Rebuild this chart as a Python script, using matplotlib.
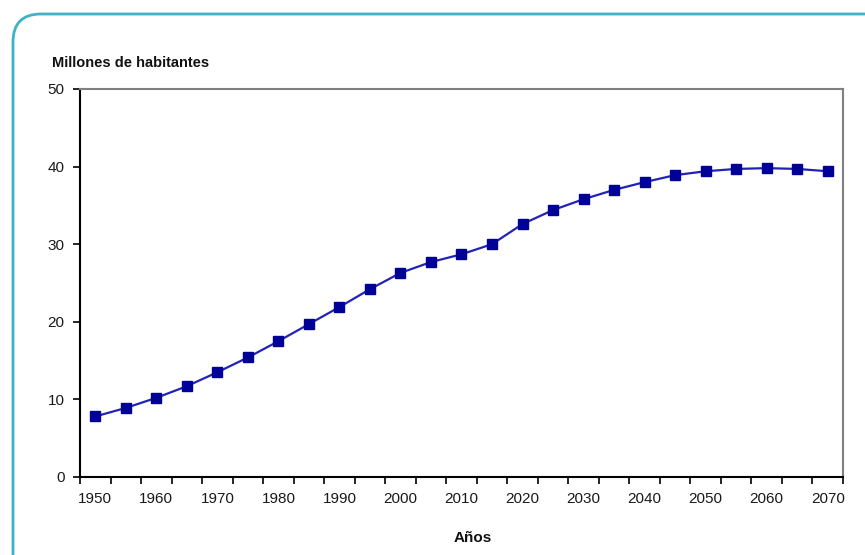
import matplotlib.pyplot as plt
from matplotlib.patches import FancyBboxPatch

plt.rcParams['font.family'] = ['Liberation Sans', 'DejaVu Sans']

years = list(range(1950, 2071, 5))
population = [7.8, 8.9, 10.2, 11.7, 13.5, 15.4, 17.5, 19.7, 21.9, 24.2,
              26.3, 27.7, 28.7, 30.0, 32.6, 34.4, 35.8, 37.0, 38.0, 38.9,
              39.4, 39.7, 39.8, 39.7, 39.4]
year_labels = [str(y) for y in years[::2]]
y_ticks = [0, 10, 20, 30, 40, 50]

fig = plt.figure(figsize=(8.65, 5.55), dpi=100)

# rounded teal frame, open to the right and bottom edges (inch units)
frame = FancyBboxPatch((0.13, -0.3), 9.0, 5.41 + 0.3,
                       boxstyle='round,pad=0,rounding_size=0.28',
                       transform=fig.dpi_scale_trans, facecolor='none',
                       edgecolor='#3fb2c6', linewidth=2, zorder=-1)
fig.patches.append(frame)

ax = fig.add_axes([80 / 865, 1 - 477 / 555, (843 - 80) / 865, (477 - 89) / 555])
ax.set_facecolor('none')

idx = list(range(len(years)))
ax.plot(idx, population, color='#2222b8', linewidth=1.6, marker='s',
        markersize=6.5, markerfacecolor='#000099', markeredgecolor='#000099',
        clip_on=False)

ax.set_xlim(-0.5, len(years) - 0.5)
ax.set_ylim(0, 50)
ax.set_yticks(y_ticks)
ax.set_yticklabels([str(v) for v in y_ticks])

# category axis: tick marks on boundaries, labels under every second year
ax.set_xticks([i - 0.5 for i in range(len(years) + 1)])
ax.set_xticklabels([])
ax.set_xticks(idx[::2], minor=True)
ax.set_xticklabels(year_labels, minor=True)
ax.tick_params(axis='x', which='minor', length=0, pad=11)
ax.tick_params(axis='x', which='major', length=5, width=1.2, direction='out')
ax.tick_params(axis='y', length=5, width=1.2, direction='out', pad=6)
ax.tick_params(axis='both', which='both', labelsize=11, labelcolor='#1a1a1a')

for side in ['left', 'bottom']:
    ax.spines[side].set_color('black')
    ax.spines[side].set_linewidth(1.5)
for side in ['top', 'right']:
    ax.spines[side].set_color('#808080')
    ax.spines[side].set_linewidth(1.5)

fig.text(52 / 865, 1 - 63 / 555, 'Millones de habitantes', fontsize=10.5,
         fontweight='bold', va='center', ha='left', color='#111111')
fig.text(473 / 865, 1 - 538 / 555, 'Años', fontsize=11,
         fontweight='bold', va='center', ha='center', color='#111111')

fig.savefig('out.png', dpi=100)
